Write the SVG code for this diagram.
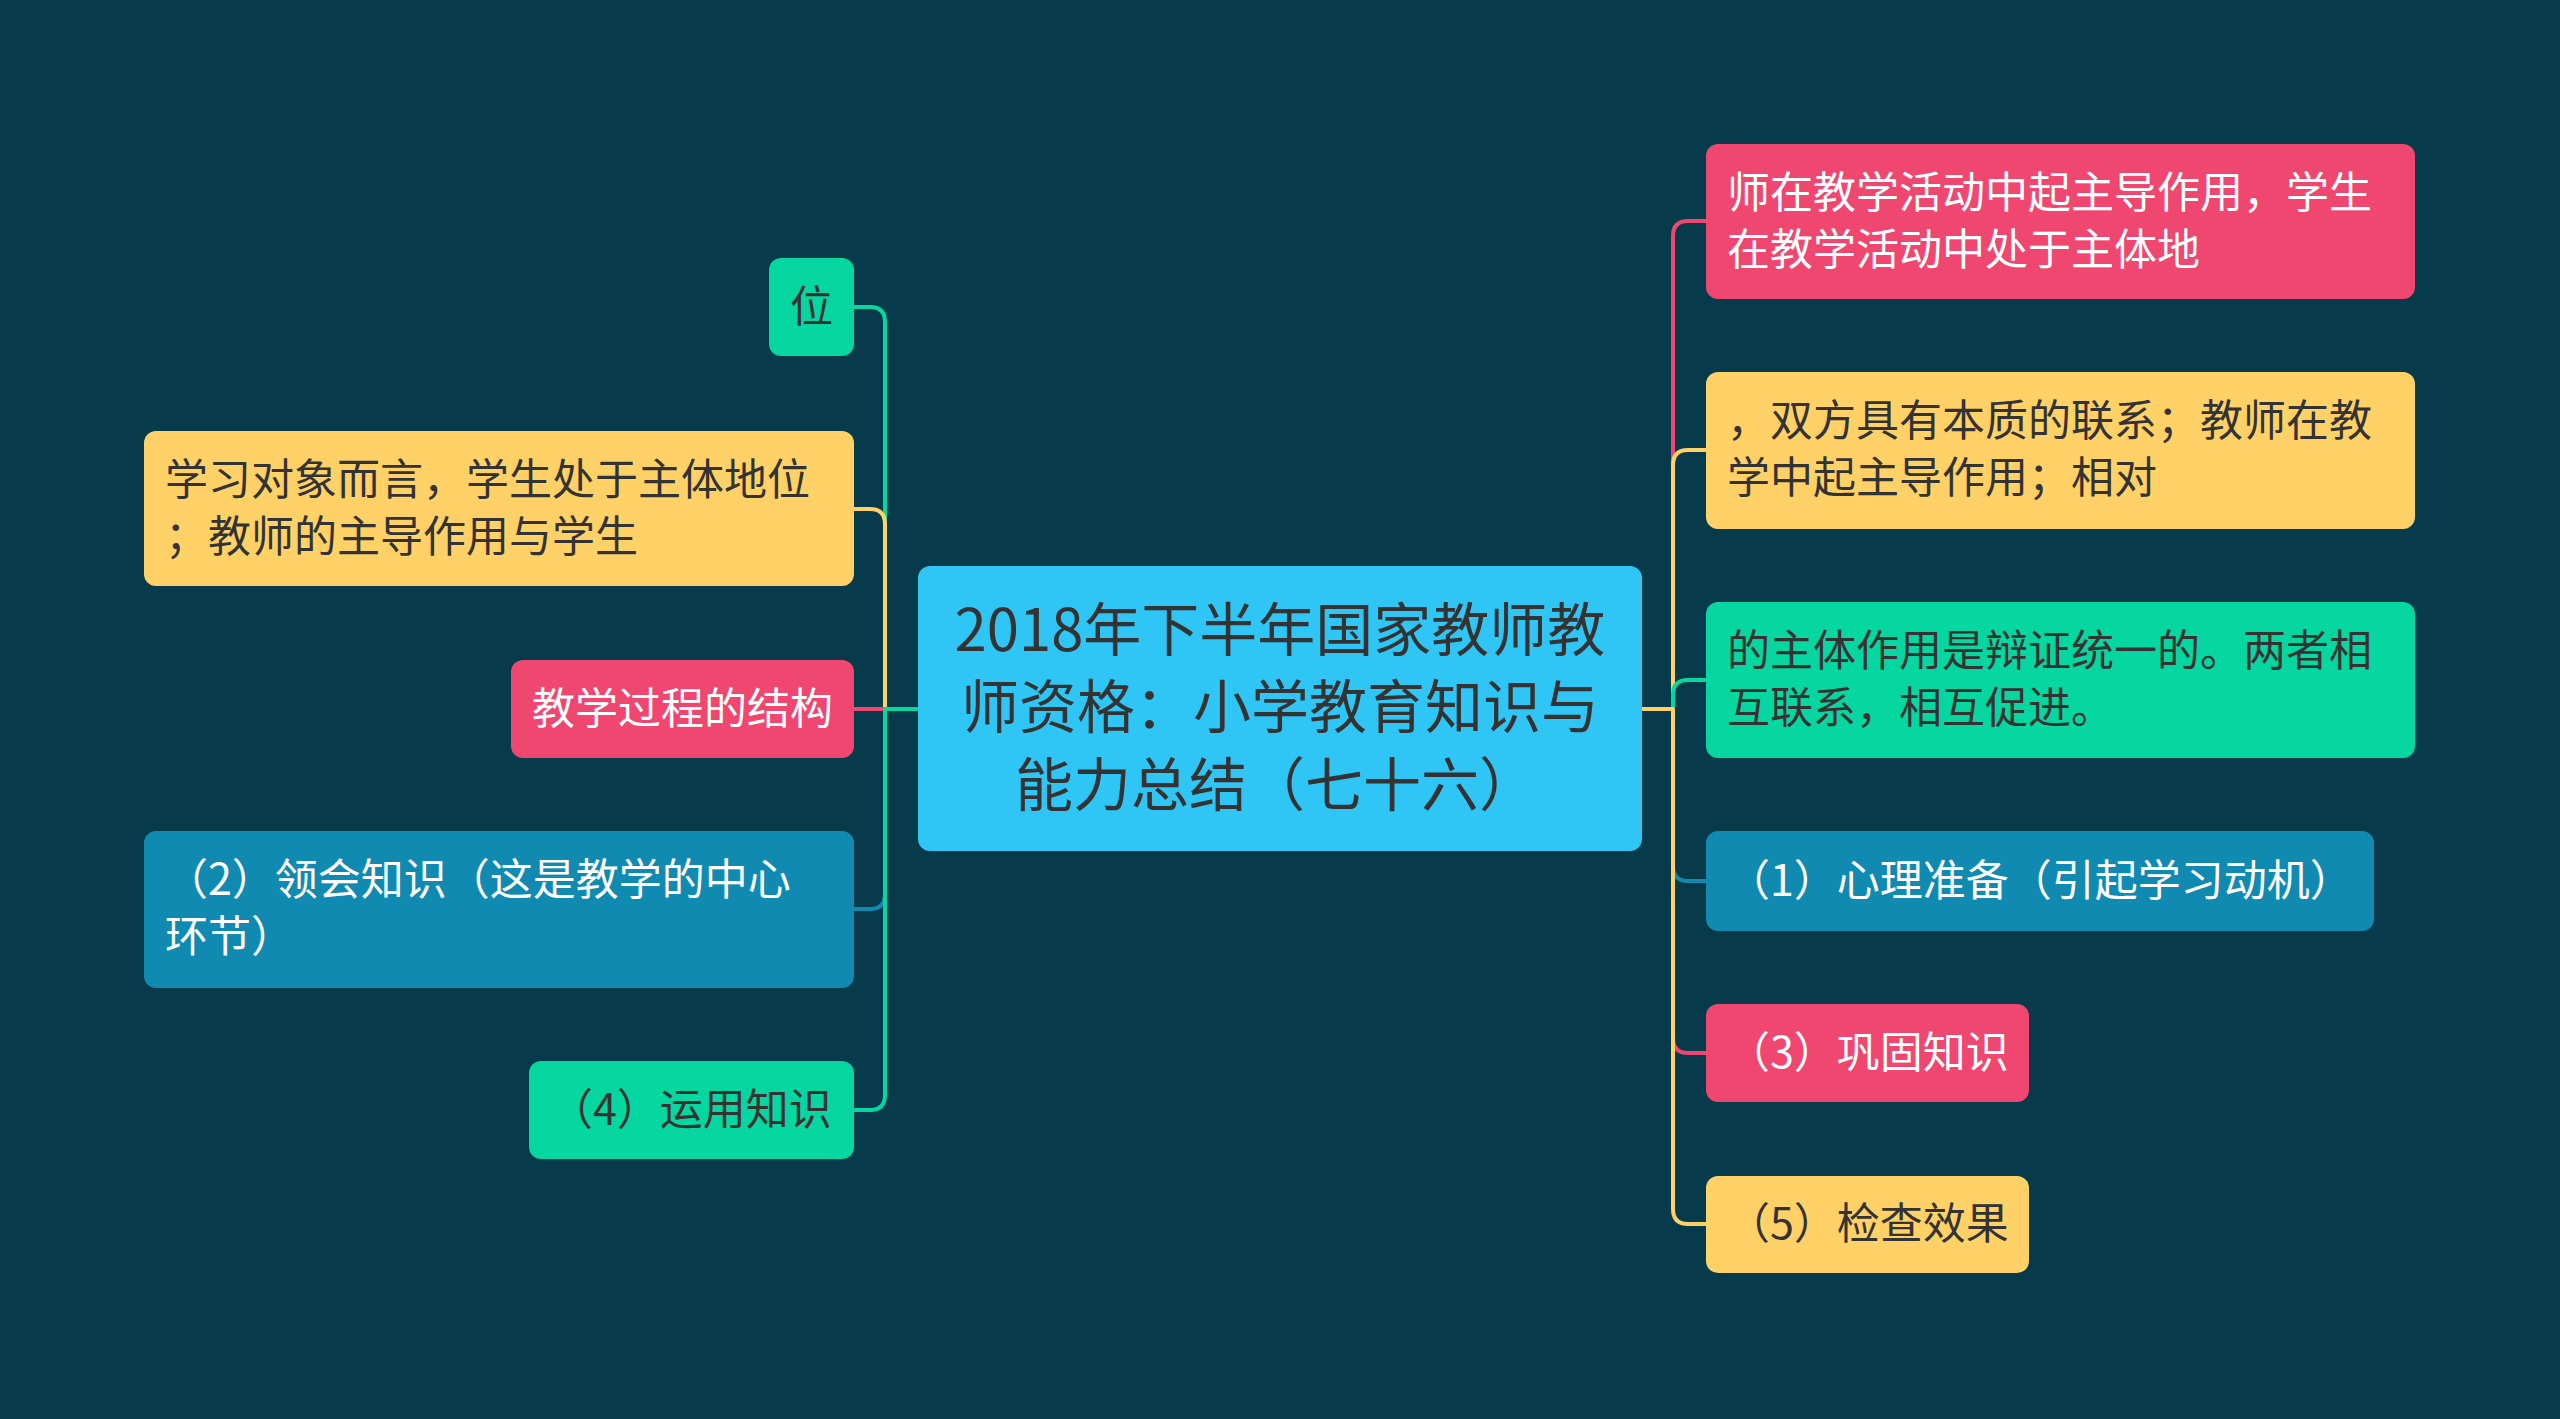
<svg xmlns="http://www.w3.org/2000/svg" width="2560" height="1419" viewBox="0 0 2560 1419">
<style>
.t{font-family:"Noto Sans CJK SC","Noto Sans",sans-serif;font-size:43px}
.c{font-family:"Noto Sans CJK SC","Noto Sans",sans-serif;font-size:58px;fill:#333333;text-anchor:middle}
.dk{fill:#333333}
.wt{fill:#ffffff}
.pink{fill:#ef476f}
.yel{fill:#ffd166}
.grn{fill:#06d6a0}
.blu{fill:#118ab2}
.ln{fill:none;stroke-width:4;stroke-linecap:round;stroke-linejoin:round}
</style>
<rect x="0" y="0" width="2560" height="1419" fill="#073b4c"/>
<g id="connectors">
<path class="ln" stroke="#06d6a0" d="M918 709 H885 V322 Q885 307 870 307 H854"/>
<path class="ln" stroke="#ffd166" d="M918 709 H885 V524 Q885 509 870 509 H854"/>
<path class="ln" stroke="#ef476f" d="M918 709 H854"/>
<path class="ln" stroke="#118ab2" d="M918 709 H885 V894 Q885 909 870 909 H854"/>
<path class="ln" stroke="#06d6a0" d="M918 709 H885 V1095 Q885 1110 870 1110 H854"/>
<path class="ln" stroke="#ef476f" d="M1642 709 H1673 V236 Q1673 221 1688 221 H1706"/>
<path class="ln" stroke="#ffd166" d="M1642 709 H1673 V465 Q1673 450 1688 450 H1706"/>
<path class="ln" stroke="#06d6a0" d="M1642 709 H1673 V695 Q1673 680 1688 680 H1706"/>
<path class="ln" stroke="#118ab2" d="M1642 709 H1673 V866 Q1673 881 1688 881 H1706"/>
<path class="ln" stroke="#ef476f" d="M1642 709 H1673 V1038 Q1673 1053 1688 1053 H1706"/>
<path class="ln" stroke="#ffd166" d="M1642 709 H1673 V1209 Q1673 1224 1688 1224 H1706"/>
</g>
<g id="center">
<rect x="918" y="566" width="724" height="285" rx="12" fill="#2fc5f5"/>
<text class="c" x="1280" y="651">2018年下半年国家教师教</text>
<text class="c" x="1280" y="728">师资格：小学教育知识与</text>
<text class="c" x="1276" y="806">能力总结（七十六）</text>
</g>
<g id="n-wei">
<rect class="grn" x="769" y="258" width="85" height="98" rx="12"/>
<text class="t dk" x="790" y="322">位</text>
</g>
<g id="n-xuexi">
<rect class="yel" x="144" y="431" width="710" height="155" rx="12"/>
<text class="t dk" x="165" y="495">学习对象而言，学生处于主体地位</text>
<text class="t dk" x="165" y="552">；教师的主导作用与学生</text>
</g>
<g id="n-jiegou">
<rect class="pink" x="511" y="660" width="343" height="98" rx="12"/>
<text class="t wt" x="532" y="724">教学过程的结构</text>
</g>
<g id="n-2">
<rect class="blu" x="144" y="831" width="710" height="157" rx="12"/>
<text class="t wt" x="165" y="895">（2）领会知识（这是教学的中心</text>
<text class="t wt" x="165" y="952">环节）</text>
</g>
<g id="n-4">
<rect class="grn" x="529" y="1061" width="325" height="98" rx="12"/>
<text class="t dk" x="550" y="1125">（4）运用知识</text>
</g>
<g id="n-shizai">
<rect class="pink" x="1706" y="144" width="709" height="155" rx="12"/>
<text class="t wt" x="1727" y="208">师在教学活动中起主导作用，学生</text>
<text class="t wt" x="1727" y="265">在教学活动中处于主体地</text>
</g>
<g id="n-shuangfang">
<rect class="yel" x="1706" y="372" width="709" height="157" rx="12"/>
<text class="t dk" x="1727" y="436">，双方具有本质的联系；教师在教</text>
<text class="t dk" x="1727" y="493">学中起主导作用；相对</text>
</g>
<g id="n-zhuti">
<rect class="grn" x="1706" y="602" width="709" height="156" rx="12"/>
<text class="t dk" x="1727" y="666">的主体作用是辩证统一的。两者相</text>
<text class="t dk" x="1727" y="723">互联系，相互促进。</text>
</g>
<g id="n-1">
<rect class="blu" x="1706" y="831" width="668" height="100" rx="12"/>
<text class="t wt" x="1727" y="896">（1）心理准备（引起学习动机）</text>
</g>
<g id="n-3">
<rect class="pink" x="1706" y="1004" width="323" height="98" rx="12"/>
<text class="t wt" x="1727" y="1068">（3）巩固知识</text>
</g>
<g id="n-5">
<rect class="yel" x="1706" y="1176" width="323" height="97" rx="12"/>
<text class="t dk" x="1727" y="1239">（5）检查效果</text>
</g>
</svg>
